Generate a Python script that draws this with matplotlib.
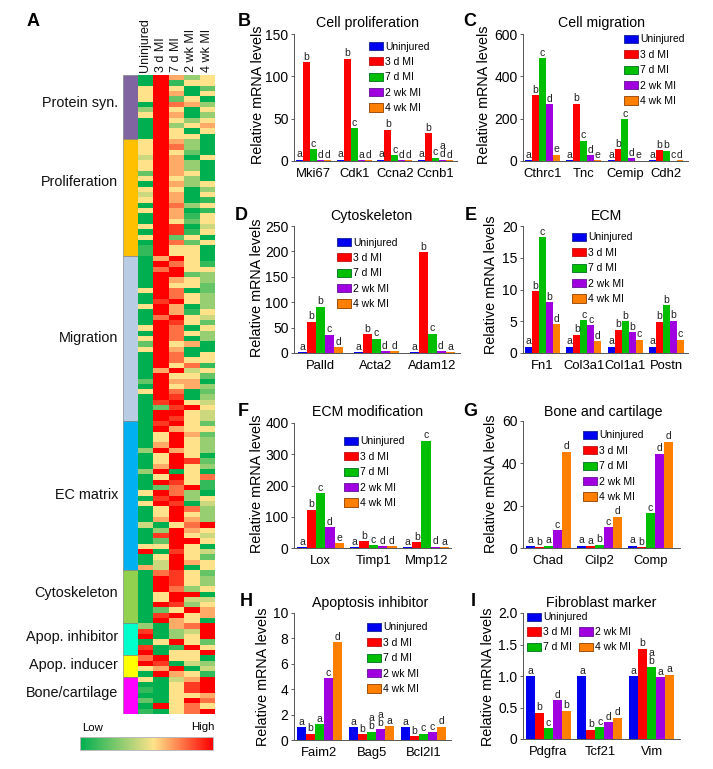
# IMPORT PACKAGES
import numpy as np
import matplotlib
matplotlib.use('Agg')
import matplotlib.pyplot as plt
from matplotlib.colors import LinearSegmentedColormap
from matplotlib.patches import Patch

plt.rcParams['font.family'] = ['Liberation Sans', 'DejaVu Sans']

W, H = 713, 769

# DATA
series = ['Uninjured', '3 d MI', '7 d MI', '2 wk MI', '4 wk MI']
bar_colors = ['#0000F0', '#FF0000', '#00BE00', '#A000E0', '#FF8000']
edge_colors = ['#2030A0', '#C82020', '#108030', '#7020A0', '#A05010']

# heatmap, one digit per row, 0 = low, 9 = high
heat_uninjured = ('0055503500' '0055545525' '0545050050' '5011000000' '5005000505' '2500000205'
                  '0000000000' '3000300050' '5000400059' '0060000000' '0003890897' '9505010201')
heat_3d = ('9999999999' '9999999999' '9999999999' '9999697999' '9989979999' '9999969999'
           '9829989556' '9556959298' '9556038250' '5447999559' '2890005009' '8690000090')
heat_7d = ('6156275653' '5567566665' '6566766588' '2755979965' '7796698777' '5677595657'
           '8989896999' '6999098779' '8999599998' '9998887998' '5966339155' '0964555555')
heat_2wk = ('3500560035' '0533203353' '3000301201' '5255555255' '0550155050' '6005745660'
            '0595555655' '5585555933' '0756765955' '5605553943' '9557455955' '4056885977')
heat_4wk = ('5525035356' '5000050000' '5351515545' '0500015332' '2333542533' '0055152032'
            '3454425233' '3023071105' '4333954504' '2552335045' '6609992590' '3419996759')

group_names = ['Protein syn.', 'Proliferation', 'Migration', 'EC matrix', 'Cytoskeleton',
               'Apop. inhibitor', 'Apop. inducer', 'Bone/cartilage']
group_rows = [12, 22, 31, 28, 10, 6, 4, 7]
group_colors = ['#8064A2', '#FFC000', '#B8CCE4', '#00B0F0', '#92D050', '#00FFCC', '#FFFF00', '#FF00FF']
group_label_y = [103, 182, 338, 495, 593, 637, 665, 693]

b_genes = ['Mki67', 'Cdk1', 'Ccna2', 'Ccnb1']
b_vals = [[1.5, 117, 14, 1, 1], [1.5, 121, 39, 1, 1], [1.5, 37, 6.5, 1, 1], [1.5, 33, 4, 1.5, 1]]
b_sig = [['a', 'b', 'c', 'd', 'd'], ['a', 'b', 'c', 'a', 'd'], ['a', 'b', 'c', 'd', 'd'], ['a', 'b', 'c', 'a\nd', 'd']]

c_genes = ['Cthrc1', 'Tnc', 'Cemip', 'Cdh2']
c_vals = [[3, 312, 487, 268, 29], [3, 270, 95, 28, 4], [3, 55, 197, 14, 2], [3, 52, 49, 2, 3]]
c_sig = [['a', 'b', 'c', 'd', 'e'], ['a', 'b', 'c', 'd', 'e'], ['a', 'b', 'c', 'd', 'e'], ['a', 'b', 'b', 'c', 'd']]

d_genes = ['Palld', 'Acta2', 'Adam12']
d_vals = [[2, 62, 91, 36, 11], [2, 37, 28, 4, 4], [2, 198, 38, 3, 2]]
d_sig = [['a', 'b', 'b', 'c', 'd'], ['a', 'b', 'c', 'd', 'd'], ['a', 'b', 'c', 'd', 'a']]

e_genes = ['Fn1', 'Col3a1', 'Col1a1', 'Postn']
e_vals = [[1, 9.7, 18.2, 8, 4.5], [1, 2.9, 5.2, 4.4, 1.9], [1, 3.7, 5, 3.3, 2.1], [1, 4.9, 7.5, 5.1, 2.1]]
e_sig = [['a', 'b', 'c', 'b', 'd'], ['a', 'b', 'c', 'c', 'd'], ['a', 'b', 'b', 'b', 'c'], ['a', 'b', 'b', 'b', 'c']]

f_genes = ['Lox', 'Timp1', 'Mmp12']
f_vals = [[2, 122, 176, 67, 15], [3, 22, 9, 6, 6], [2, 19, 343, 4, 2]]
f_sig = [['a', 'b', 'c', 'd', 'e'], ['a', 'b', 'c', 'd', 'd'], ['a', 'b', 'c', 'd', 'a']]

g_genes = ['Chad', 'Cilp2', 'Comp']
g_vals = [[1, 0.4, 1, 8.5, 45.5], [1, 0.8, 1.6, 9.8, 14.8], [1, 0.4, 16.5, 44.5, 50.2]]
g_sig = [['a', 'b', 'a', 'c', 'd'], ['a', 'a', 'b', 'c', 'd'], ['a', 'b', 'c', 'd', 'd']]

h_genes = ['Faim2', 'Bag5', 'Bcl2l1']
h_vals = [[1, 0.5, 1.25, 4.85, 7.7], [1, 0.45, 0.65, 0.88, 1.07], [1, 0.3, 0.5, 0.6, 1.05]]
h_sig = [['a', 'b', 'a', 'c', 'd'], ['a', 'b', 'a\nb', 'a\nb', 'a'], ['a', 'b', 'c', 'c', 'd']]

i_genes = ['Pdgfra', 'Tcf21', 'Vim']
i_vals = [[1, 0.42, 0.17, 0.62, 0.45], [1, 0.15, 0.19, 0.27, 0.34], [1, 1.43, 1.15, 0.98, 1.02]]
i_sig = [['a', 'b', 'c', 'd', 'b'], ['a', 'b', 'c', 'd', 'd'], ['a', 'b', 'a\nb', 'a', 'a']]


# FUNCTIONS
def px_axes(x0, y0, x1, y1):  # y0 is the top edge, picture pixels
    return fig.add_axes([x0/W, 1-y1/H, (x1-x0)/W, (y1-y0)/H])

def px_text(x, y, s, **kw):
    kw.setdefault('ha', 'center')
    kw.setdefault('va', 'center')
    fig.text(x/W, 1-y/H, s, **kw)

def add_legend(idx, x, y, ncol=1):
    handles = [Patch(facecolor=bar_colors[j], edgecolor=edge_colors[j], linewidth=0.7) for j in idx]
    labels = [series[j] for j in idx]
    fig.legend(handles, labels, loc='upper left', bbox_to_anchor=(x/W, 1-(y-5.5)/H),
               frameon=False, fontsize=7.5, ncol=ncol, handlelength=1.35, handleheight=0.85,
               handletextpad=0.2, labelspacing=0.52, borderpad=0, borderaxespad=0, columnspacing=0.7)

def bar_panel(box, first, pitch, bw, genes, vals, sig, ymax, yticks, title, title_xy, ylab_xy, leg_xy, letter, letter_xy, yticklabels=None):
    x0, y0, x1, y1 = box
    ax = px_axes(x0, y0, x1, y1)
    c0 = first + 2.5*bw  # middle of first group
    ax.set_xlim((x0-c0)/pitch, (x1-c0)/pitch)
    ax.set_ylim(0, ymax)
    w = bw/pitch
    vals = np.array(vals)
    for j in range(5):
        xs = np.arange(len(genes)) + (j-2)*w
        ax.bar(xs, vals[:, j], width=w, color=bar_colors[j], label=series[j])
        for k, x in enumerate(xs):
            ax.annotate(sig[k][j], (x, vals[k, j]), xytext=(0, 0.3), textcoords='offset points',
                        ha='center', va='bottom', fontsize=7.5, linespacing=0.75, color='#222222',
                        annotation_clip=False)
    ax.set_xticks(np.arange(len(genes)))
    ax.set_xticklabels(genes, fontsize=9.4)
    ax.tick_params(axis='x', length=0, pad=5)
    ax.set_yticks(yticks)
    ax.set_yticklabels(yticklabels if yticklabels else [str(t) for t in yticks], fontsize=10)
    ax.tick_params(axis='y', length=2.5, width=0.6, pad=1.5, color='#444444')
    for s in ['top', 'right']:
        ax.spines[s].set_visible(False)
    for s in ['left', 'bottom']:
        ax.spines[s].set_linewidth(0.7)
        ax.spines[s].set_color('#555555')

    if letter == 'I':  # uninjured sits alone on top, the others in two columns
        add_legend([0], leg_xy[0], leg_xy[1])
        add_legend([1, 2, 3, 4], leg_xy[0], leg_xy[1]+14.5, ncol=2)
    else:
        add_legend([0, 1, 2, 3, 4], leg_xy[0], leg_xy[1])

    px_text(title_xy[0], title_xy[1], title, fontsize=10.2)
    px_text(ylab_xy[0], ylab_xy[1], 'Relative mRNA levels', fontsize=10.4, rotation=90)
    px_text(letter_xy[0], letter_xy[1], letter, fontsize=13, fontweight='bold', ha='left')


# PLOTS
fig = plt.figure(figsize=(W/100, H/100), dpi=100)

# panel A
heat_cmap = LinearSegmentedColormap.from_list('heat', [(0, '#00B050'), (5/9, '#FFE38A'), (1, '#FF0000')])
heat_cols = [heat_uninjured, heat_3d, heat_7d, heat_2wk, heat_4wk]
heat = np.array([[int(c) for c in col] for col in heat_cols]).T

ax_heat = px_axes(138, 75, 214.5, 714)
ax_heat.imshow(heat, cmap=heat_cmap, vmin=0, vmax=9, aspect='auto', interpolation='nearest')
ax_heat.axis('off')

ax_side = px_axes(123, 75, 138, 714)
ax_side.set_xlim(0, 1)
ax_side.set_ylim(sum(group_rows), 0)
ax_side.bar(0.5, group_rows, bottom=np.cumsum([0]+group_rows[:-1]), width=1, color=group_colors,
            edgecolor='#777777', linewidth=0.4)
ax_side.axis('off')

for name, y in zip(group_names, group_label_y):
    px_text(118, y, name, ha='right', fontsize=10.4, color='#111111')
for j, name in enumerate(series):
    px_text(145.5+j*15.3, 72, name, rotation=90, va='bottom', fontsize=9, color='#111111')

ax_bar = px_axes(80, 737, 213, 750)
ax_bar.imshow(np.linspace(0, 9, 256)[None, :], cmap=heat_cmap, vmin=0, vmax=9, aspect='auto')
ax_bar.set_xticks([])
ax_bar.set_yticks([])
for s in ax_bar.spines.values():
    s.set_color('#BBBBBB')
    s.set_linewidth(0.7)
px_text(82, 728, 'Low', ha='left', fontsize=8.2)
px_text(215, 727, 'High', ha='right', fontsize=8.2)
px_text(27, 22, 'A', ha='left', fontsize=13, fontweight='bold')

# bar panels
bar_panel((294, 34, 457, 161), 296, 40.7, 7, b_genes, b_vals, b_sig, 150, [0, 50, 100, 150],
          'Cell proliferation', (368, 23), (258, 95), (369, 47), 'B', (238, 22))
bar_panel((523, 34, 688, 161), 525, 41.3, 6.9, c_genes, c_vals, c_sig, 600, [0, 200, 400, 600],
          'Cell migration', (602, 23), (484, 95), (624, 40), 'C', (463, 22))
bar_panel((294, 226, 460, 353), 297.5, 56, 9, d_genes, d_vals, d_sig, 250, [0, 50, 100, 150, 200, 250],
          'Cytoskeleton', (371, 216), (257, 288), (337, 243), 'D', (235, 216))
bar_panel((523, 226, 688, 353), 525, 41.3, 7, e_genes, e_vals, e_sig, 20, [0, 5, 10, 15, 20],
          'ECM', (607, 216), (491, 285), (572, 238), 'E', (465, 216))
bar_panel((294, 423, 451, 548), 297.3, 52.8, 9.3, f_genes, f_vals, f_sig, 400, [0, 100, 200, 300, 400],
          'ECM modification', (368, 412), (257, 484), (344, 442), 'F', (238, 412))
bar_panel((523, 421, 680, 548), 525.7, 51, 9, g_genes, g_vals, g_sig, 60, [0, 20, 40, 60],
          'Bone and cartilage', (603, 412), (491, 484), (583, 436), 'G', (463, 412))
bar_panel((294, 613, 451, 740), 297, 52, 9, h_genes, h_vals, h_sig, 10, [0, 2, 4, 6, 8, 10],
          'Apoptosis inhibitor', (370, 603), (263, 677), (367, 628), 'H', (240, 602))
bar_panel((523, 613, 680, 739), 525.7, 51.7, 9, i_genes, i_vals, i_sig, 2.0, [0, 0.5, 1.0, 1.5, 2.0],
          'Fibroblast marker', (601, 603), (488, 677), (527, 618), 'I', (471, 602),
          yticklabels=['0', '0.5', '1.0', '1.5', '2.0'])

fig.savefig('out.png', dpi=100)
